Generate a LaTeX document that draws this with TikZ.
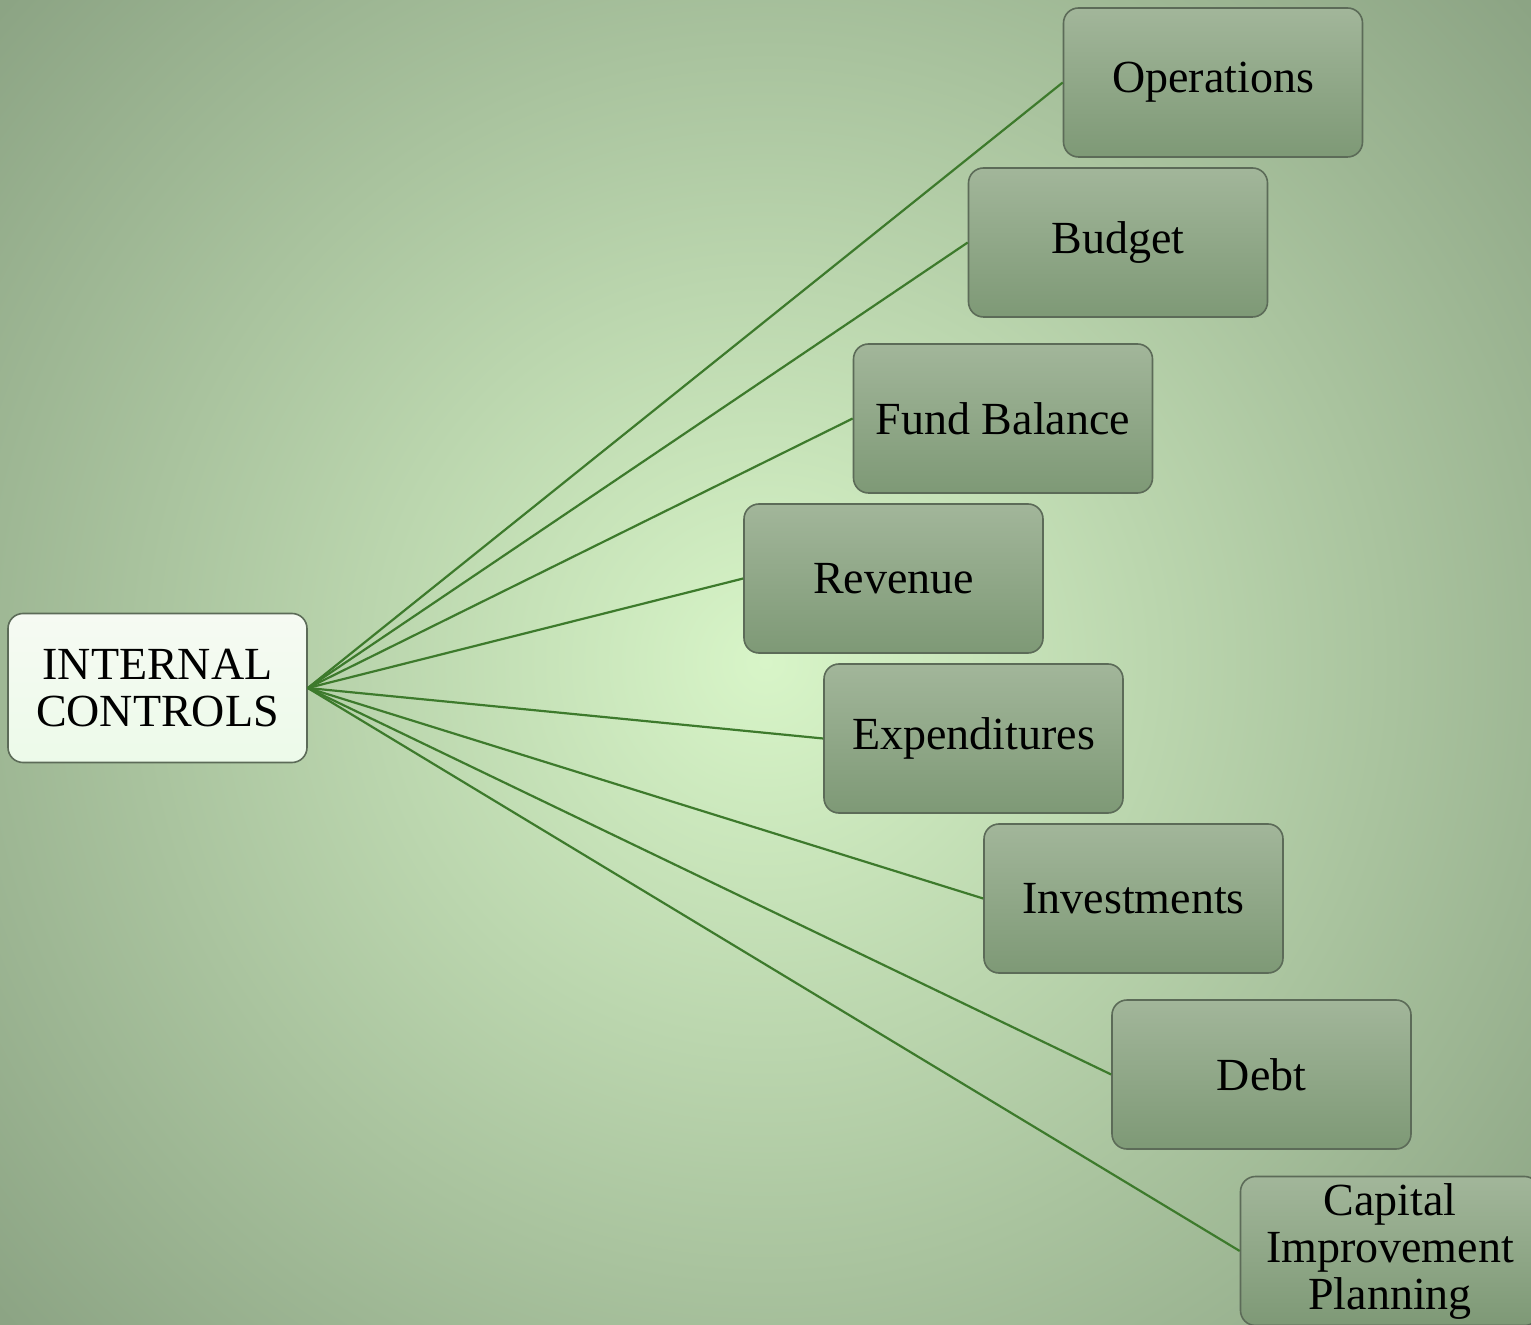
\documentclass[tikz,border=0pt]{standalone}
\usepackage{fontspec}
\setmainfont{Liberation Serif}
\begin{document}
\definecolor{bgin}{HTML}{D8F5C8}
\definecolor{bgout}{HTML}{8CA484}
\definecolor{boxtop}{HTML}{A2B69A}
\definecolor{boxbot}{HTML}{7E9976}
\definecolor{boxline}{HTML}{5C6B58}
\definecolor{rootfill}{HTML}{F6FAF3}
\definecolor{linkgreen}{HTML}{3D7A2C}
\begin{tikzpicture}[x=0.5pt,y=-0.5pt,
  leaf/.style={draw=boxline, line width=0.8pt, rounded corners=7.5pt,
    top color=boxtop, bottom color=boxbot,
    minimum width=149.5pt, minimum height=74.5pt, inner sep=2pt,
    align=center, font=\fontsize{23}{23.5}\selectfont},
  root/.style={leaf, top color=rootfill, bottom color=rootfill!96!green, fill=rootfill},
  link/.style={draw=linkgreen, line width=1.1pt}]
% background
\useasboundingbox (0,0) rectangle (1531,1325);
\clip (0,0) rectangle (1531,1325);
\shade[inner color=bgin, outer color=bgout] (-250,-330) rectangle (1781,1655);
% nodes
\node[root] (ic) at (157.5,688) {INTERNAL\\CONTROLS};
\node[leaf] (ops) at (1213,82.5) {Operations};
\node[leaf] (bud) at (1118,242.5) {Budget};
\node[leaf] (fund) at (1003,418.5) {Fund Balance};
\node[leaf] (rev) at (893.5,578.5) {Revenue};
\node[leaf] (exp) at (973.5,738.5) {Expenditures};
\node[leaf] (inv) at (1133.5,898.5) {Investments};
\node[leaf] (debt) at (1261.5,1074.5) {Debt};
\node[leaf] (cap) at (1390,1251) {Capital\\Improvement\\Planning};
% connectors
\foreach \t in {ops,bud,fund,rev,exp,inv,debt,cap}
  \draw[link] (ic.east) -- (\t.west);
\end{tikzpicture}
\end{document}
